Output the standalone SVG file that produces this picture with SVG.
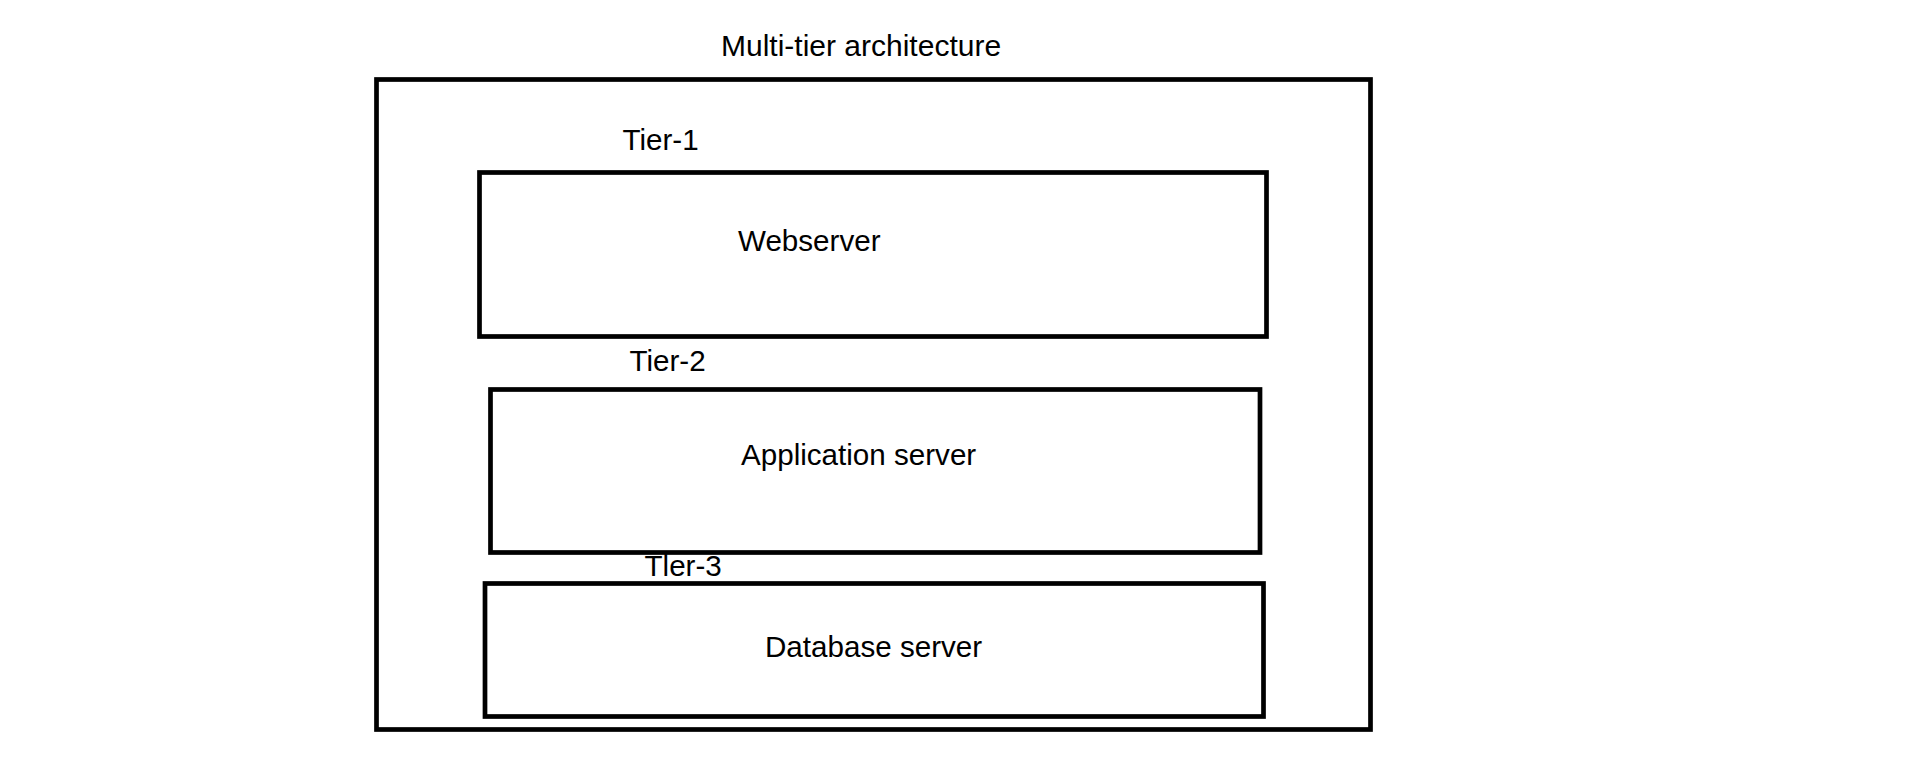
<svg xmlns="http://www.w3.org/2000/svg" width="1914" height="781" viewBox="0 0 1914 781">
  <style>
    .box { fill: none; stroke: #000; stroke-width: 4.7; }
    .lbl { font-family: "Liberation Sans", Arial, sans-serif; font-size: 29.6px; fill: #000; }
    .title { font-size: 30px; }
  </style>
  <rect width="1914" height="781" fill="#fff"/>
  <g id="multi-tier">
    <rect class="box" x="376.5" y="79.5" width="994" height="650"/>
    <text class="lbl title" x="721" y="56">Multi-tier architecture</text>
  </g>
  <g id="tier-1">
    <rect class="box" x="479.5" y="172.5" width="787" height="164"/>
    <text class="lbl" x="622.5" y="150">Tier-1</text>
    <text class="lbl" x="738" y="250.7">Webserver</text>
  </g>
  <g id="tier-2">
    <rect class="box" x="490.5" y="389.5" width="769.5" height="163"/>
    <text class="lbl" x="629.5" y="371">Tier-2</text>
    <text class="lbl" x="741" y="465">Application server</text>
  </g>
  <g id="tier-3">
    <rect class="box" x="485" y="583.5" width="778.5" height="133"/>
    <text class="lbl" x="644.5" y="575.5">Tler-3</text>
    <text class="lbl" x="765" y="656.7">Database server</text>
  </g>
  <g id="connectors"/>
</svg>
